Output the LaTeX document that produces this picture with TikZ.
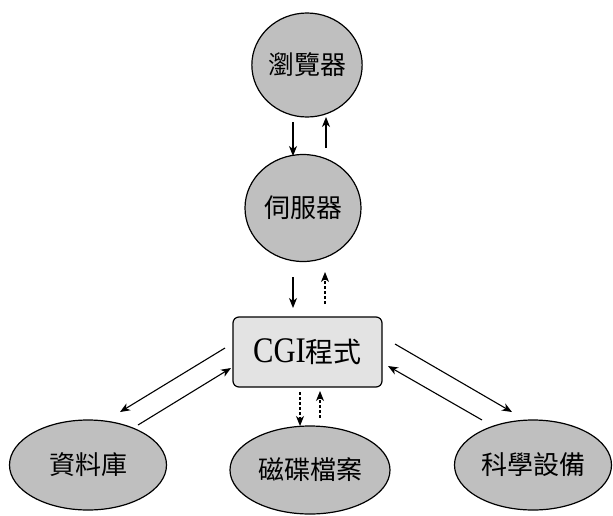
\documentclass[tikz,border=0pt]{standalone}
\usepackage{fontspec}
\newfontfamily\cjk{Noto Sans CJK TC}
\newfontfamily\latn[FakeStretch=0.85]{Liberation Serif}
\usetikzlibrary{shapes.geometric,arrows.meta}
\begin{document}
\begin{tikzpicture}[x=1pt,y=-1pt,
  blob/.style={draw=black,line width=1.2pt,fill=gray!50,font=\fontsize{26}{28}\selectfont\cjk,inner sep=0pt},
  oval/.style={blob,ellipse},
  prog/.style={draw=black,line width=1.2pt,fill=gray!22,rounded corners=6pt,minimum width=149pt,minimum height=70pt,inner sep=0pt},
  flow/.style={line width=1.1pt,-{Stealth[length=10pt,width=8pt,inset=3pt]}},
  dflow/.style={flow,densely dashed}]
\useasboundingbox (0,0) rectangle (613,515);
\node[oval,minimum width=108pt,minimum height=104pt] (browser) at (307,65) {瀏覽器};
\node[oval,minimum width=116pt,minimum height=107pt] (server) at (303,208) {伺服器};
\node[prog] (cgi) at (307.5,352) {{\fontsize{36}{38}\selectfont\latn CGI}{\fontsize{28}{30}\selectfont\cjk 程式}};
\node[oval,minimum width=157pt,minimum height=90pt] (db) at (88,465) {資料庫};
\node[oval,minimum width=160pt,minimum height=88pt] (disk) at (310,470) {磁碟檔案};
\node[oval,minimum width=157pt,minimum height=90pt] (sci) at (533,465) {科學設備};
% browser <-> server
\coordinate (b1) at (293,122); \coordinate (s1) at (293,156);
\coordinate (s2) at (326,148); \coordinate (b2) at (326,117);
\draw[flow] (b1) -- (s1);
\draw[flow] (s2) -- (b2);
% server <-> cgi
\coordinate (s3) at (293,277); \coordinate (c3) at (293,308);
\coordinate (c4) at (325,304); \coordinate (s4) at (325,272);
\draw[flow] (s3) -- (c3);
\draw[dflow] (c4) -- (s4);
% cgi <-> db
\coordinate (c5) at (225,348); \coordinate (d5) at (120,412);
\coordinate (d6) at (138,425); \coordinate (c6) at (231,368);
\draw[flow] (c5) -- (d5);
\draw[flow] (d6) -- (c6);
% cgi <-> disk
\coordinate (c7) at (300,392); \coordinate (k7) at (300,426);
\coordinate (k8) at (320,418); \coordinate (c8) at (320,391);
\draw[dflow] (c7) -- (k7);
\draw[dflow] (k8) -- (c8);
% cgi <-> sci
\coordinate (c9) at (395,344); \coordinate (e9) at (512,412);
\coordinate (e10) at (482,420); \coordinate (c10) at (388,366);
\draw[flow] (c9) -- (e9);
\draw[flow] (e10) -- (c10);
\end{tikzpicture}
\end{document}
